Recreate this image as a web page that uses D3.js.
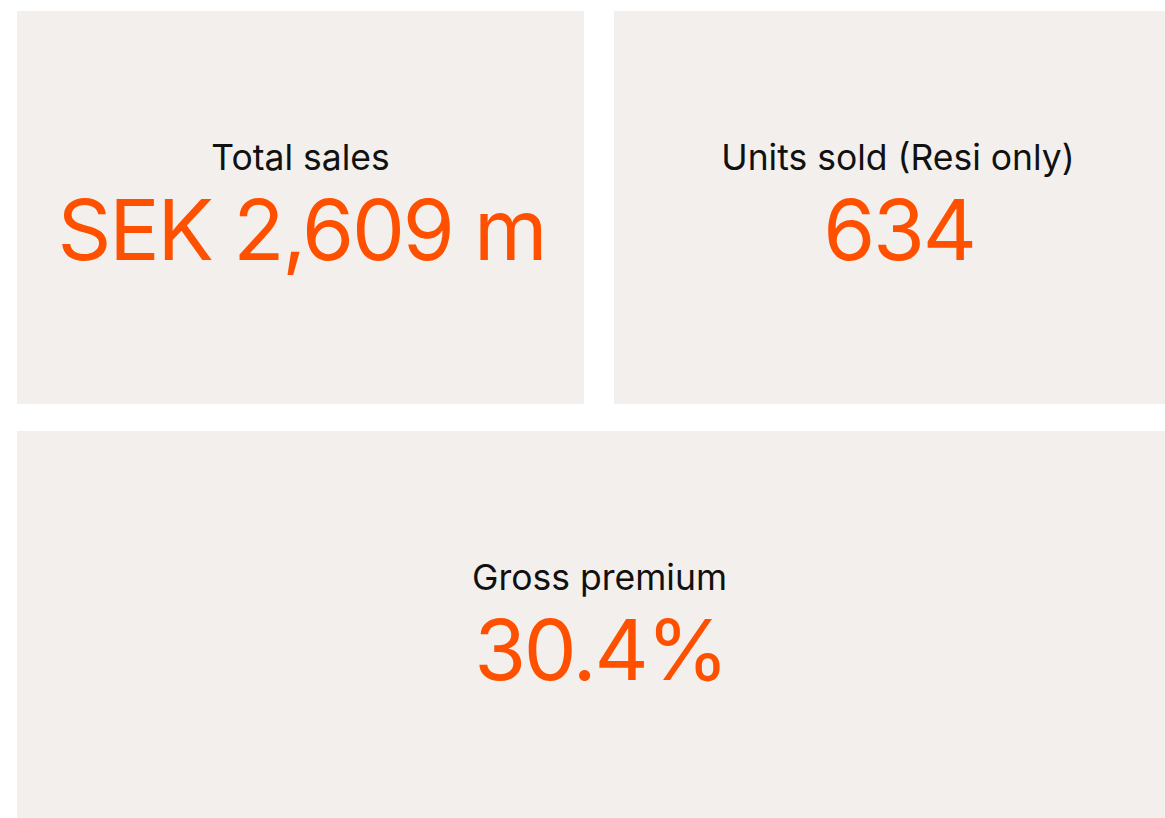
<!DOCTYPE html>
<html>
<head>
<meta charset="utf-8">
<script src="https://cdn.jsdelivr.net/npm/d3@7"></script>
<style>
  html, body { margin: 0; padding: 0; background: #ffffff; overflow: hidden; }
  svg { display: block; }
</style>
</head>
<body>
<svg id="chart" width="1165" height="818"></svg>
<script>
const labels = ["Total sales", "Units sold (Resi only)", "Gross premium"];
const values = [2609, 634, 30.4];
const formats = ["SEK {v} m", "{v}", "{v}%"];
const valueFormatters = [d3.format(",.0f"), d3.format(",.0f"), d3.format(".1f")];

const svg = d3.select("#chart");
const panelBg = "#f3efec";
const accent = "#ff5000";

// grid layout: two cards on the top row, one spanning card below
const padLeft = 17, padTop = 11, fullRight = 1182;
const gapY = 27, cardH = 393;
const cards = [
  { x0: padLeft, x1: 584, y0: padTop },
  { x0: 614, x1: fullRight, y0: padTop },
  { x0: padLeft, x1: fullRight, y0: padTop + cardH + gapY }
];

const g = svg.selectAll("g.card")
  .data(labels.map((l, i) => ({ label: l, value: values[i], fmt: formats[i], f: valueFormatters[i], box: cards[i] })))
  .join("g")
  .attr("class", "card");

g.append("rect")
  .attr("x", d => d.box.x0)
  .attr("y", d => d.box.y0)
  .attr("width", d => d.box.x1 - d.box.x0)
  .attr("height", cardH)
  .attr("fill", panelBg);

g.append("text")
  .attr("x", d => (d.box.x0 + d.box.x1) / 2)
  .attr("y", d => d.box.y0 + 159)
  .attr("text-anchor", "middle")
  .attr("font-family", "Inter, 'Noto Sans', sans-serif")
  .attr("font-size", 35.5)
  .attr("fill", "#111111")
  .text(d => d.label);

g.append("text")
  .attr("x", d => (d.box.x0 + d.box.x1) / 2 + 1)
  .attr("y", d => d.box.y0 + 249)
  .attr("text-anchor", "middle")
  .attr("font-family", "Inter, 'Noto Sans', sans-serif")
  .attr("font-size", 84)
  .attr("letter-spacing", -2.2)
  .attr("fill", accent)
  .text(d => d.fmt.replace("{v}", d.f(d.value)));
</script>
</body>
</html>
